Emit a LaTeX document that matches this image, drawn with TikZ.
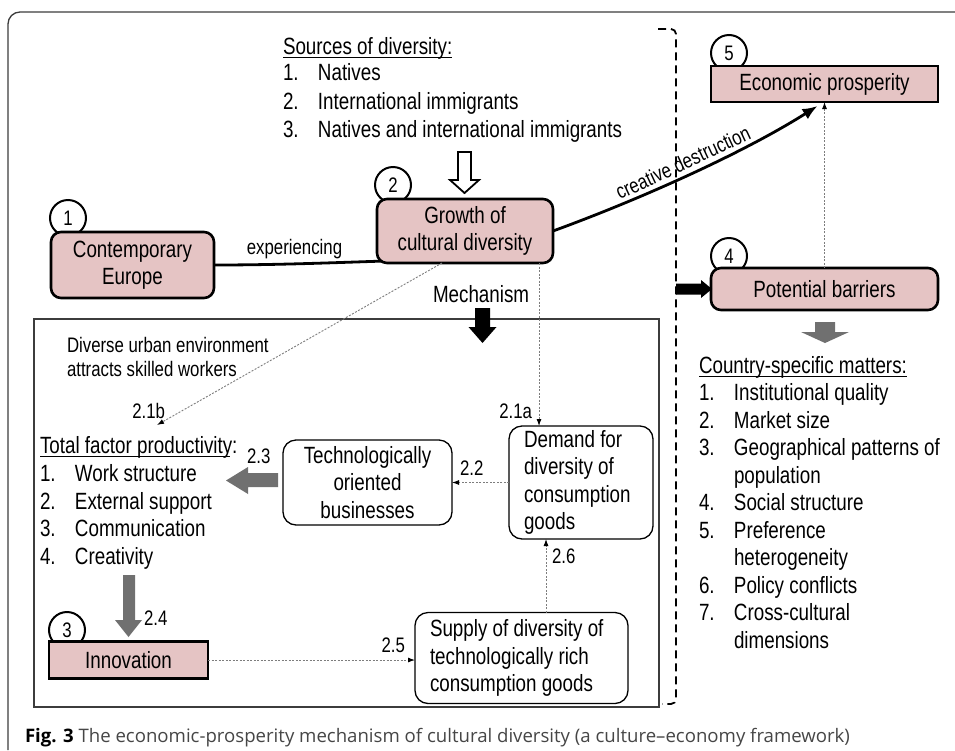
\documentclass[tikz,border=0pt]{standalone}
\usepackage{fontspec}
\setmainfont{Liberation Sans}[FakeStretch=0.8]
\newfontfamily\capfont{Open Sans}
\usetikzlibrary{arrows.meta,backgrounds,calc}
\definecolor{pinkfill}{RGB}{229,196,196}
\definecolor{arrgray}{RGB}{112,112,112}
\definecolor{dotgray}{RGB}{125,125,125}
\definecolor{framegray}{RGB}{60,60,60}
\definecolor{capgray}{RGB}{70,70,70}
\begin{document}
\begin{tikzpicture}[x=1pt,y=-1pt,
  every node/.style={inner sep=0pt, outer sep=0pt},
  mainfont/.style={font=\fontsize{23.5}{27.5}\selectfont},
  smallfont/.style={font=\fontsize{21}{24}\selectfont},
  pinkbox/.style={draw, line width=2.6pt, fill=pinkfill, rounded corners=10pt, mainfont, align=center},
  pinksq/.style={draw, line width=2.6pt, fill=pinkfill, mainfont, align=center},
  whitebox/.style={draw, line width=1.3pt, fill=white, rounded corners=13pt, mainfont},
  numcirc/.style={circle, draw, line width=2pt, fill=white, minimum size=36pt, smallfont},
  dotarrow/.style={draw=dotgray, line width=0.9pt, dash pattern=on 2pt off 1.5pt, -{Latex[length=7pt,width=5pt,black]}},
  lbl/.style={smallfont}
]
\useasboundingbox (0,0) rectangle (955,750);
\begin{scope}[on background layer]
\fill[white] (0,0) rectangle (955,750);
\end{scope}

% outer frame
\draw[framegray, line width=1.3pt, rounded corners=12pt] (8,750) -- (8,12) -- (955,12);
% dashed bracket
\draw[line width=1.8pt, dash pattern=on 8pt off 5pt, rounded corners=5pt] (658,29) -- (676,29) -- (676,704) -- (662,704);
% inner mechanism box
\draw[framegray, line width=1.3pt] (34,319) rectangle (659,707);

% number circles
\node[numcirc] (c1) at (68,218) {1};
\node[numcirc] (c2) at (393,185) {2};
\node[numcirc] (c5) at (729,53) {5};
\node[numcirc] (c4) at (729,256) {4};
\node[numcirc] (c3) at (67,630) {3};

% boxes
\node[pinkbox, minimum width=163pt, minimum height=66pt] (ce) at (132.5,265) {Contemporary\\Europe};
\node[pinkbox, minimum width=176pt, minimum height=64pt] (growth) at (465,231) {Growth of\\cultural diversity};
\node[pinksq, minimum width=227pt, minimum height=36pt] (econ) at (824.5,84) {Economic prosperity};
\node[pinkbox, minimum width=227pt, minimum height=42pt] (pot) at (824.5,289) {Potential barriers};
\node[pinksq, minimum width=159pt, minimum height=37pt] (innov) at (128.5,660) {Innovation};
\node[whitebox, minimum width=169pt, minimum height=85pt, align=center] (tech) at (367.5,482.5) {Technologically\\oriented\\businesses};
\node[whitebox, minimum height=113pt, inner xsep=15pt, text width=114pt, align=left] (demand) at (581,482.5) {\spaceskip=0pt\xspaceskip=0pt Demand for\\diversity of\\consumption\\goods};
\node[whitebox, minimum height=91pt, inner xsep=15pt, text width=183pt, align=left] (supply) at (521.5,658) {\spaceskip=0pt\xspaceskip=0pt Supply of diversity of\\technologically rich\\consumption goods};

% sources of diversity
\node[mainfont, anchor=base west] (srchdr) at (283,54) {Sources of diversity:};
\draw[line width=1pt] ([yshift=-3pt]srchdr.base west) -- ([yshift=-3pt]srchdr.base east);
\node[anchor=base west, font=\fontsize{23.5}{28.5}\selectfont] (srclist) at (283,80.5)
  {\begin{tabular}[t]{@{}p{35pt}@{}l@{}}1.&Natives\\2.&International immigrants\\3.&Natives and international immigrants\end{tabular}};

% total factor productivity
\node[mainfont, anchor=base west] (tfphdr) at (40,453) {Total factor productivity:};
\draw[line width=1pt] ([yshift=-3pt]tfphdr.base west) -- ([yshift=-3pt,xshift=-7pt]tfphdr.base east);
\node[anchor=base west, font=\fontsize{23.5}{27.7}\selectfont] (tfplist) at (40,481.5)
  {\begin{tabular}[t]{@{}p{35pt}@{}l@{}}1.&Work structure\\2.&External support\\3.&Communication\\4.&Creativity\end{tabular}};

% country-specific matters
\node[mainfont, anchor=base west] (cshdr) at (699,373) {Country-specific matters:};
\draw[line width=1pt] ([yshift=-3pt]cshdr.base west) -- ([yshift=-3pt]cshdr.base east);
\node[anchor=base west, font=\fontsize{23.5}{27.5}\selectfont] (cslist) at (699,400.5)
  {\begin{tabular}[t]{@{}p{35pt}@{}l@{}}1.&Institutional quality\\2.&Market size\\3.&Geographical patterns of\\&population\\4.&Social structure\\5.&Preference\\&heterogeneity\\6.&Policy conflicts\\7.&Cross-cultural\\&dimensions\end{tabular}};

% free texts
\node[mainfont, anchor=base west] (mech) at (433,302) {Mechanism};
\node[lbl, anchor=base west] (du1) at (67,352) {Diverse urban environment};
\node[lbl, anchor=base west] (du2) at (67,376) {attracts skilled workers};
\coordinate (t21b) at (157,425);

% connectors
\begin{scope}[on background layer]
\draw[line width=2.8pt] (ce.east) .. controls +(60,0) and +(-60,2) .. ($(growth.south west)+(8,-2)$)
  node[pos=0.47, above=5pt, lbl] (lexp) {experiencing};
\draw[line width=2.8pt, -{Latex[length=15pt,width=12pt]}] (growth.east) .. controls +(85,-31) and +(-76,48) .. ($(econ.south)+(-7,4)$)
  node[pos=0.5, sloped, above=6pt, lbl] (lcd) {creative destruction};
\end{scope}
\draw[dotarrow] ([xshift=74pt]growth.south) -- ([xshift=-42pt]demand.north)
  node[pos=1, anchor=base east, xshift=-7pt, yshift=8pt, lbl, text=black] (l21a) {2.1a};
\draw[dotarrow] ([xshift=-23pt]growth.south) -- (t21b)
  node[pos=1, anchor=base east, xshift=8pt, yshift=7pt, lbl, text=black] (l21b) {2.1b};
\draw[dotarrow] (demand.west) -- (tech.east)
  node[pos=1, anchor=base west, xshift=8pt, yshift=7.5pt, lbl, text=black] (l22) {2.2};
\draw[dotarrow] (innov.east) -- (innov.east -| supply.west)
  node[pos=1, anchor=base east, xshift=-10pt, yshift=8pt, lbl, text=black] (l25) {2.5};
\draw[dotarrow] ([xshift=24.5pt]supply.north) -- ([xshift=-35pt]demand.south)
  node[pos=1, anchor=base west, xshift=6pt, yshift=-24pt, lbl, text=black] (l26) {2.6};
\draw[dotarrow] (pot.north) -- (econ.south);

% block arrows
% 2.3 gray left arrow
\fill[arrgray] (278,473) -- (248,473) -- (248,467) -- (226,480.5) -- (248,494) -- (248,487) -- (278,487) -- cycle;
\node[lbl, anchor=base west] (l23) at (247,463) {2.3};
% 2.4 gray down arrow
\fill[arrgray] (123,575) -- (135,575) -- (135,620) -- (142,620) -- (128.5,637) -- (115,620) -- (123,620) -- cycle;
\node[lbl, anchor=base west] (l24) at (144,625) {2.4};
% gray arrow below potential barriers
\fill[arrgray] (815,322) -- (835,322) -- (835,332) -- (849,332) -- (825,343) -- (801,332) -- (815,332) -- cycle;
% mechanism black arrow
\fill[black] (475,308) -- (490,308) -- (490,327) -- (496.5,327) -- (482.5,343) -- (468.5,327) -- (475,327) -- cycle;
% black arrow into potential barriers
\fill[black] (676,283.5) -- (701,283.5) -- (701,280) -- (712,289) -- (701,298) -- (701,294.5) -- (676,294.5) -- cycle;
% hollow arrow (sources -> growth)
\draw[line width=1.8pt, fill=white, line join=miter] (458,152) -- (471,152) -- (471,180) -- (479,180) -- (464.5,193) -- (450,180) -- (458,180) -- cycle;

% caption
\node[anchor=base west, font=\capfont\fontsize{18.6}{22}\selectfont, text=capgray] (cap) at (25,742)
  {\textbf{\color{black}Fig. 3} The economic-prosperity mechanism of cultural diversity (a culture–economy framework)};
\end{tikzpicture}
\end{document}
